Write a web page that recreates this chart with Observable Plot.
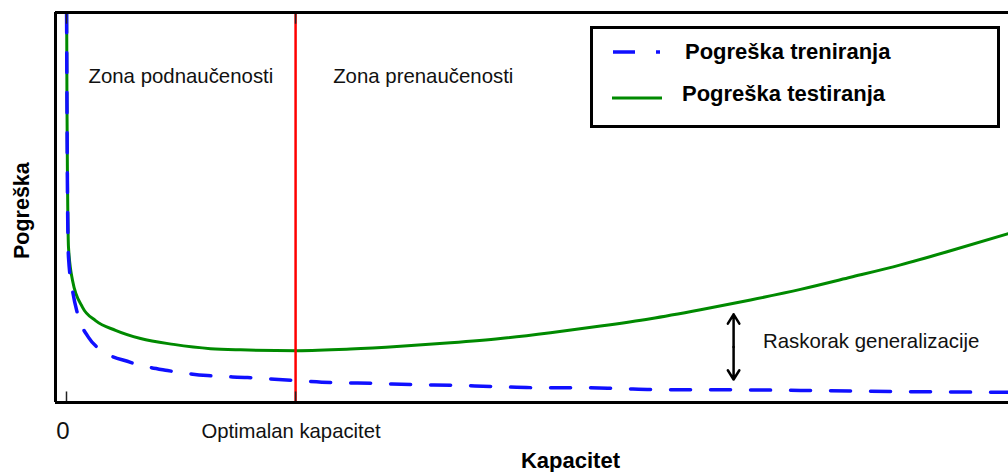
<!DOCTYPE html>
<html><head><meta charset="utf-8">
<script src="https://cdn.jsdelivr.net/npm/d3@7"></script>
<script src="https://cdn.jsdelivr.net/npm/@observablehq/plot@0.6"></script>
<style>
html,body{margin:0;padding:0;background:#fff;}
#wrap{position:relative;width:1008px;height:472px;overflow:hidden;background:#fff;}
#legend{position:absolute;left:0;top:0;pointer-events:none;}
</style></head><body><div id="wrap"></div>
<script>
// Training error (blue dashed)
const trainCapacity = [0.001, 0.011, 0.022, 0.066, 0.120, 0.240, 0.338, 0.699, 1.103, 1.539, 1.976, 2.522, 2.915, 3.352, 3.788, 4.225, 4.662, 5.142, 5.579, 6.015, 6.452, 6.812, 8.013, 9.105, 10.28];
const trainError    = [1.000, 0.526, 0.372, 0.287, 0.228, 0.167, 0.141, 0.103, 0.082, 0.069, 0.064, 0.056, 0.051, 0.049, 0.046, 0.044, 0.041, 0.038, 0.038, 0.036, 0.033, 0.033, 0.031, 0.028, 0.026];
// Test error (green)
const testCapacity = [0.002, 0.005, 0.011, 0.022, 0.066, 0.175, 0.317, 0.535, 0.808, 1.168, 1.572, 1.900, 2.521, 3.099, 3.645, 4.191, 4.736, 5.282, 5.828, 6.373, 6.919, 7.465, 8.010, 8.556, 9.102, 9.647, 10.28];
const testError    = [1.000, 0.774, 0.569, 0.397, 0.313, 0.244, 0.210, 0.185, 0.164, 0.149, 0.138, 0.135, 0.133, 0.137, 0.144, 0.153, 0.164, 0.179, 0.196, 0.215, 0.238, 0.263, 0.290, 0.321, 0.353, 0.389, 0.433];

const optimalCapacity = 2.5;
const xTicks = [0, optimalCapacity];
const xTickLabels = ["0", "Optimalan kapacitet"];
const zoneLabels = ["Zona podnaučenosti", "Zona prenaučenosti"];
const zoneLabelX = [0.24, 2.91];
const zoneLabelY = 0.818;
const gapLabel = "Raskorak generalizacije";
const gapX = 7.28, gapLow = 0.059, gapHigh = 0.226;
const legendLabels = ["Pogreška treniranja", "Pogreška testiranja"];
const xLabel = "Kapacitet";
const yLabel = "Pogreška";

const train = trainCapacity.map((c, i) => ({c, e: trainError[i]}));
const test = testCapacity.map((c, i) => ({c, e: testError[i]}));
const gapMid = (gapLow + gapHigh) / 2;
const font = "'Liberation Sans', Arial, Helvetica, sans-serif";

const chart = Plot.plot({
  width: 1008, height: 472,
  marginLeft: 55, marginRight: 0, marginTop: 12, marginBottom: 70,
  x: {domain: [-0.12, 10.28], axis: null},
  y: {domain: [0, 1], axis: null},
  style: {fontFamily: font, background: "#fff", overflow: "visible", color: "#000"},
  marks: [
    Plot.line(test, {x: "c", y: "e", stroke: "#008a00", strokeWidth: 3, curve: "monotone-x", clip: true}),
    Plot.line(train, {x: "c", y: "e", stroke: "#1010ff", strokeWidth: 3.5, strokeDasharray: "20,20", curve: "monotone-x", clip: true}),
    Plot.ruleX([optimalCapacity], {stroke: "#ff0000", strokeWidth: 2.5}),
    Plot.ruleX(xTicks, {y1: 0, y2: 0.027, stroke: "#222", strokeWidth: 1.5}),
    Plot.ruleX(xTicks, {y1: 0.97, y2: 1, stroke: "#222", strokeWidth: 1.5}),
    Plot.ruleY([0, 1], {stroke: "#000", strokeWidth: 3}),
    Plot.ruleX([-0.12], {stroke: "#000", strokeWidth: 3}),
    Plot.arrow([{y: gapHigh}, {y: gapLow}], {x1: gapX, x2: gapX, y1: gapMid, y2: "y", stroke: "#000", strokeWidth: 2.5, headLength: 13, headAngle: 64, insetStart: 0, insetEnd: 0}),
    Plot.text(zoneLabels, {x: (d, i) => zoneLabelX[i], y: zoneLabelY, text: d => d, textAnchor: "start", lineAnchor: "bottom", fontSize: 20.4, fill: "#111"}),
    Plot.text([gapLabel], {x: 7.60, y: 0.141, text: d => d, textAnchor: "start", lineAnchor: "bottom", fontSize: 20.4, fill: "#111"}),
    Plot.text([xTickLabels[0]], {x: -0.04, frameAnchor: "bottom", dy: 36, text: d => d, lineAnchor: "bottom", fontSize: 24, fill: "#111"}),
    Plot.text([xTickLabels[1]], {x: 2.45, frameAnchor: "bottom", dy: 35, text: d => d, lineAnchor: "bottom", fontSize: 20.3, fill: "#111"}),
    Plot.text([xLabel], {x: 5.50, frameAnchor: "bottom", dy: 65, text: d => d, lineAnchor: "bottom", fontSize: 22, fontWeight: "bold", fill: "#000"}),
    Plot.text([yLabel], {y: 0.492, frameAnchor: "left", dx: -27, rotate: -90, text: d => d, textAnchor: "middle", lineAnchor: "bottom", fontSize: 21.5, fontWeight: "bold", fill: "#000"})
  ]
});

const wrap = document.getElementById("wrap");
wrap.appendChild(chart);

// Legend overlay
const lg = d3.select(wrap).append("svg").attr("id", "legend").attr("width", 1008).attr("height", 472);
lg.append("rect").attr("x", 591.5).attr("y", 27.5).attr("width", 407).attr("height", 99)
  .attr("fill", "#fff").attr("stroke", "#000").attr("stroke-width", 3);
lg.append("line").attr("x1", 613).attr("x2", 661).attr("y1", 52).attr("y2", 52)
  .attr("stroke", "#1010ff").attr("stroke-width", 3.5).attr("stroke-dasharray", "22,21,4,200");
lg.append("line").attr("x1", 612).attr("x2", 662).attr("y1", 98).attr("y2", 98)
  .attr("stroke", "#008a00").attr("stroke-width", 3);
lg.selectAll("text.l").data(legendLabels).join("text")
  .attr("x", (d, i) => i === 0 ? 685 : 682)
  .attr("y", (d, i) => i === 0 ? 59 : 101)
  .attr("font-family", font).attr("font-weight", "bold").attr("font-size", 22)
  .attr("fill", "#000").text(d => d);
</script>
</body></html>
